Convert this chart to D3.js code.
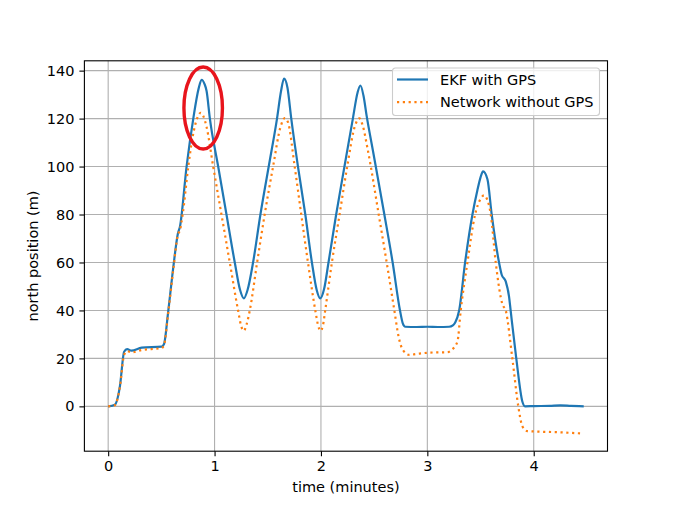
<!DOCTYPE html>
<html lang="en">
  <head>
    <meta charset="utf-8">
    <title>north position</title>
    <script src="https://d3js.org/d3.v7.min.js"></script>
    <style type="text/css">
        body {
          margin: 0;
          background: #fff;
        }
        .chart text {
          font-family: "DejaVu Sans", sans-serif;
          font-size: 14.5px;
          fill: #000;
        }
        .grid line {
          stroke: #b0b0b0;
          stroke-width: 1.1px;
        }
        .axis path, .axis line {
          stroke: #000;
          stroke-width: 1.1px;
        }
    </style>
  </head>
  <body>
    <div class="chart" id="chart"></div>
    <script>
        // time (minutes) / north position (m)
        var ekfTime = [0, 0.0625, 0.11, 0.15, 0.178, 0.219, 0.315, 0.503, 0.525, 0.562, 0.612, 0.655, 0.675,
            0.737, 0.80, 0.85, 0.878, 0.905, 0.925, 0.956, 1.034, 1.112, 1.19, 1.24, 1.275, 1.31, 1.362,
            1.431, 1.509, 1.587, 1.625, 1.653, 1.685, 1.721, 1.784, 1.853, 1.915, 1.96, 1.993, 2.03, 2.071,
            2.143, 2.221, 2.30, 2.345, 2.371, 2.40, 2.43, 2.487, 2.596, 2.674, 2.743, 2.77, 2.793, 2.9,
            3.0, 3.1, 3.205, 3.24, 3.262, 3.299, 3.355, 3.424, 3.47, 3.50, 3.524, 3.565, 3.605, 3.674,
            3.699, 3.737, 3.768, 3.783, 3.836, 3.893, 3.918, 4.0, 4.15, 4.25, 4.35, 4.47];
        var ekfNorth = [0, 0.7, 8.3, 22.8, 23.9, 23.2, 24.5, 24.9, 26, 38.7, 58, 72, 75,
            100, 120, 132.5, 136.2, 134.5, 131.5, 120, 100, 80, 60, 48.5, 45, 48.5, 60,
            80, 100, 120, 131.5, 136.7, 133, 120, 100, 80, 60, 48.5, 45, 49, 60,
            80, 100, 120, 131, 133.8, 129.5, 121, 107, 80, 60, 40, 34.5, 33.2, 33.1,
            33.2, 33.1, 33.2, 33.8, 35, 40, 60, 80, 90, 95.5, 98, 94.7, 80, 60,
            54.9, 52.1, 45.8, 40, 20, 2, 0, 0.1, 0.2, 0.4, 0.2, 0];

        var netTime = [0, 0.0625, 0.11, 0.15, 0.18, 0.22, 0.315, 0.50, 0.525, 0.562, 0.612, 0.655, 0.675,
            0.70, 0.753, 0.794, 0.84, 0.869, 0.895, 0.925, 0.987, 1.065, 1.143, 1.221, 1.25, 1.275, 1.30,
            1.331, 1.40, 1.471, 1.55, 1.62, 1.66, 1.69, 1.753, 1.815, 1.878, 1.947, 1.975, 1.997, 2.02,
            2.04, 2.103, 2.175, 2.247, 2.32, 2.362, 2.39, 2.44, 2.543, 2.618, 2.69, 2.73, 2.77, 2.83,
            2.92, 3.018, 3.19, 3.23, 3.283, 3.314, 3.377, 3.449, 3.50, 3.533, 3.565, 3.596, 3.643, 3.69,
            3.705, 3.737, 3.799, 3.855, 3.893, 3.94, 4.236, 4.455];
        var netNorth = [0, 0.5, 8, 21.5, 23, 22.5, 23.5, 24.3, 25.5, 38, 57, 71.5, 73.5,
            80, 100, 112.4, 120.5, 122.4, 121, 116.5, 100, 80, 60, 40, 33.5, 31.5, 34,
            40, 60, 80, 100, 116.5, 120.2, 118.5, 100, 80, 60, 40, 33.5, 31.5, 34,
            40, 60, 80, 100, 117, 120.1, 117.5, 107, 80, 60, 40, 29, 23.5, 21.5,
            22, 22.4, 22.6, 23.6, 27, 40, 60, 80, 86.5, 88, 86, 80, 60, 45.5,
            42.6, 40, 20, 0, -8.3, -10.3, -10.8, -11.3];

        var xTicks = [0, 1, 2, 3, 4];
        var yTicks = [0, 20, 40, 60, 80, 100, 120, 140];
        var seriesNames = ["EKF with GPS", "Network without GPS"];

        // red ring drawn round the first peak (centre and radii in data units)
        var ring = {t: 0.893, v: 124.4, rt: 0.181, rv: 17.1};

        var W = 675, H = 507;
        var box = {left: 84.4, right: 607.5, top: 60.8, bottom: 451.2};

        var svg = d3.select("#chart").append("svg")
            .attr("width", W)
            .attr("height", H);

        var ekf = ekfTime.map(function(t, i) { return [t, ekfNorth[i]]; });
        var net = netTime.map(function(t, i) { return [t, netNorth[i]]; });
        var all = ekf.concat(net);

        // matplotlib style 5% margins
        function padded(ext) {
            var m = (ext[1] - ext[0]) * 0.05;
            return [ext[0] - m, ext[1] + m];
        }

        var x = d3.scaleLinear()
            .domain(padded(d3.extent(all, function(d) { return d[0]; })))
            .range([box.left, box.right]);
        var y = d3.scaleLinear()
            .domain(padded(d3.extent(all, function(d) { return d[1]; })))
            .range([box.bottom, box.top]);

        // grid
        var grid = svg.append("g").attr("class", "grid");
        grid.selectAll(".gx").data(xTicks).enter().append("line")
            .attr("x1", function(d) { return x(d); }).attr("x2", function(d) { return x(d); })
            .attr("y1", box.top).attr("y2", box.bottom);
        grid.selectAll(".gy").data(yTicks).enter().append("line")
            .attr("y1", function(d) { return y(d); }).attr("y2", function(d) { return y(d); })
            .attr("x1", box.left).attr("x2", box.right);

        var line = d3.line()
            .x(function(d) { return x(d[0]); })
            .y(function(d) { return y(d[1]); })
            .curve(d3.curveMonotoneX);

        var plot = svg.append("g");
        plot.append("path")
            .datum(ekf)
            .attr("d", line)
            .attr("fill", "none")
            .attr("stroke", "#1f77b4")
            .attr("stroke-width", 2.2);
        plot.append("path")
            .datum(net)
            .attr("d", line)
            .attr("fill", "none")
            .attr("stroke", "#ff7f0e")
            .attr("stroke-width", 2.2)
            .attr("stroke-dasharray", "2.2,3.6");

        // axes
        svg.append("g")
            .attr("class", "axis")
            .attr("transform", "translate(0," + box.bottom + ")")
            .call(d3.axisBottom(x).tickValues(xTicks).tickFormat(d3.format("d"))
                .tickSize(5).tickPadding(5).tickSizeOuter(0))
            .call(function(g) { g.select(".domain").remove(); });
        svg.append("g")
            .attr("class", "axis")
            .attr("transform", "translate(" + box.left + ",0)")
            .call(d3.axisLeft(y).tickValues(yTicks).tickFormat(d3.format("d"))
                .tickSize(5).tickPadding(5).tickSizeOuter(0))
            .call(function(g) { g.select(".domain").remove(); });
        svg.selectAll(".axis text")
            .style("font-family", "DejaVu Sans, sans-serif")
            .style("font-size", "14.5px");

        svg.append("rect")
            .attr("x", box.left).attr("y", box.top)
            .attr("width", box.right - box.left).attr("height", box.bottom - box.top)
            .attr("fill", "none").attr("stroke", "#000").attr("stroke-width", 1.1);

        svg.append("text")
            .attr("x", (box.left + box.right) / 2)
            .attr("y", 492)
            .attr("text-anchor", "middle")
            .text("time (minutes)");
        svg.append("text")
            .attr("transform", "translate(38," + (box.top + box.bottom) / 2 + ") rotate(-90)")
            .attr("text-anchor", "middle")
            .text("north position (m)");

        // legend
        var lg = svg.append("g").attr("transform", "translate(392.5,68)");
        lg.append("rect")
            .attr("width", 207).attr("height", 47.5).attr("rx", 3)
            .attr("fill", "#fff").attr("fill-opacity", 0.8)
            .attr("stroke", "#cccccc").attr("stroke-width", 1.1);
        var item = lg.selectAll(".item").data(seriesNames).enter().append("g")
            .attr("transform", function(d, i) { return "translate(0," + (11.5 + i * 22.7) + ")"; });
        item.append("line")
            .attr("x1", 4.5).attr("x2", 35.5)
            .attr("stroke", function(d, i) { return i ? "#ff7f0e" : "#1f77b4"; })
            .attr("stroke-width", 2.2)
            .attr("stroke-dasharray", function(d, i) { return i ? "2.2,3.6" : null; });
        item.append("text")
            .attr("x", 47.5).attr("y", 5.2)
            .text(function(d) { return d; });

        svg.append("ellipse")
            .attr("cx", x(ring.t)).attr("cy", y(ring.v))
            .attr("rx", x(ring.t + ring.rt) - x(ring.t))
            .attr("ry", y(ring.v - ring.rv) - y(ring.v))
            .attr("fill", "none")
            .attr("stroke", "#e8141c")
            .attr("stroke-width", 3.4);
    </script>
  </body>
</html>
